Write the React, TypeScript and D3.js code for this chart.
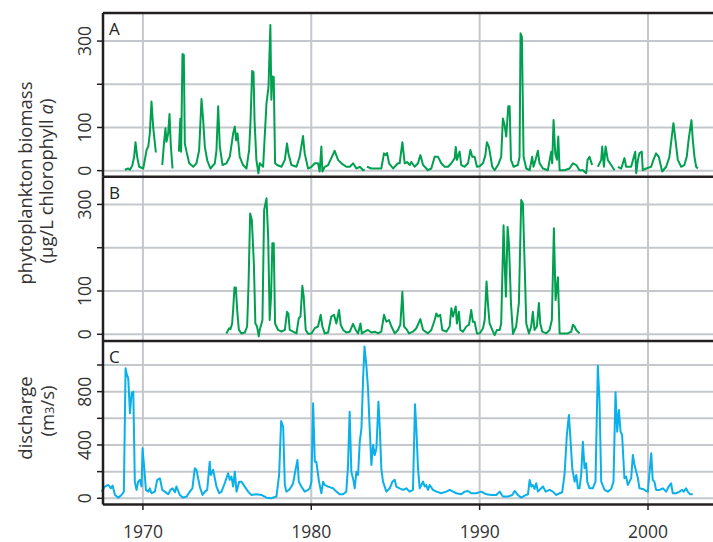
import React, { useEffect, useRef } from 'react'
import * as d3 from 'd3';

// panel A: phytoplankton biomass, station A  [decimal year, µg/L chl a]  (null = gap)
const chlA: [number, number | null][] = [
  [1968.93, 2], [1969.13, 5], [1969.23, 2], [1969.37, 12], [1969.48, 32], [1969.56, 66], [1969.66, 32], [1969.78, 9],
  [1970.02, 5], [1970.22, 48], [1970.32, 56], [1970.41, 86], [1970.51, 160], [1970.61, 101], [1970.77, 42], [1970.9, null],
  [1971.15, 13], [1971.25, 62], [1971.34, 98], [1971.40, 67], [1971.50, 86], [1971.58, 131], [1971.66, 56], [1971.76, 5], [1971.9, null],
  [1972.14, 44], [1972.22, 120], [1972.27, 44], [1972.35, 270], [1972.43, 268], [1972.49, 63], [1972.59, 44], [1972.75, 17],
  [1972.99, 9], [1973.18, 17], [1973.34, 47], [1973.48, 166], [1973.58, 117], [1973.68, 55], [1973.82, 24], [1974.01, 5],
  [1974.27, 17], [1974.37, 47], [1974.47, 149], [1974.57, 55], [1974.73, 13], [1974.96, 17], [1975.16, 32], [1975.36, 86],
  [1975.46, 102], [1975.54, 70], [1975.62, 86], [1975.75, 32], [1975.95, 13], [1976.15, 5], [1976.31, 48], [1976.39, 113],
  [1976.49, 231], [1976.57, 228], [1976.63, 117], [1976.74, 25], [1976.86, -6], [1976.94, 17], [1977.14, 9], [1977.34, 156],
  [1977.46, 194], [1977.57, 337], [1977.63, 164], [1977.69, 218], [1977.77, 217], [1977.85, 17], [1977.97, 13], [1978.23, 9],
  [1978.43, 25], [1978.56, 63], [1978.64, 40], [1978.82, 13], [1979.12, 9], [1979.31, 32], [1979.51, 80], [1979.61, 40],
  [1979.81, 5], [1980.01, 9], [1980.21, 17], [1980.40, 17], [1980.50, -2], [1980.60, 56], [1980.66, -2], [1980.80, 9],
  [1981.00, 13], [1981.19, 29], [1981.39, 46], [1981.59, 25], [1981.79, 17], [1982.08, 9], [1982.29, 9], [1982.48, 17],
  [1982.68, 5], [1982.88, 9], [1983.08, 1], [1983.17, 2], [1983.24, null], [1983.31, 9], [1983.57, 5], [1983.87, 5],
  [1984.16, 5], [1984.32, 40], [1984.42, 36], [1984.50, 41], [1984.62, 17], [1984.86, 5], [1985.15, 17], [1985.25, 17],
  [1985.41, 66], [1985.55, 17], [1985.69, 20], [1985.85, 13], [1985.94, 20], [1986.14, 9], [1986.34, 17], [1986.48, 36],
  [1986.64, 13], [1986.93, 1], [1987.13, 5], [1987.33, 32], [1987.53, 32], [1987.72, 17], [1987.92, 9], [1988.12, 9],
  [1988.32, 17], [1988.52, 29], [1988.58, 55], [1988.65, 25], [1988.81, 44], [1988.91, 13], [1989.11, 9], [1989.31, 17],
  [1989.45, 48], [1989.56, 32], [1989.70, 32], [1989.84, 9], [1990.00, 10], [1990.20, 17], [1990.34, 36], [1990.43, 66],
  [1990.55, 55], [1990.75, 9], [1990.89, 1], [1991.09, 13], [1991.28, 32], [1991.38, 121], [1991.48, 106], [1991.58, 79],
  [1991.70, 149], [1991.78, 149], [1991.86, 25], [1992.02, 9], [1992.27, 13], [1992.37, 32], [1992.43, 318], [1992.51, 310],
  [1992.61, 32], [1992.77, 5], [1992.97, 1], [1993.12, 32], [1993.20, 9], [1993.32, 25], [1993.46, 46], [1993.56, 17],
  [1993.76, 5], [1994.05, 1], [1994.25, 44], [1994.31, 17], [1994.39, 117], [1994.49, 40], [1994.59, 25], [1994.67, 79],
  [1994.75, 1], [1995.04, 1], [1995.34, 5], [1995.54, 17], [1995.74, 13], [1995.93, 1], [1996.13, 1], [1996.33, -6],
  [1996.41, 25], [1996.53, 32], [1996.68, 13], [1996.85, null], [1997.02, 9], [1997.22, 25], [1997.28, 56], [1997.38, 9],
  [1997.48, 56], [1997.61, 25], [1997.81, 13], [1998.01, 1], [1998.1, null], [1998.21, 9], [1998.41, 5], [1998.60, 29],
  [1998.70, 9], [1999.00, 9], [1999.24, 44], [1999.30, -6], [1999.40, 25], [1999.49, 40], [1999.63, 44], [1999.69, 1],
  [1999.89, 5], [2000.19, 9], [2000.32, 25], [2000.48, 40], [2000.64, 32], [2000.84, -2], [2001.08, 9], [2001.27, 32],
  [2001.39, 71], [2001.51, 110], [2001.63, 71], [2001.77, 25], [2001.97, 9], [2002.16, 13], [2002.30, 32], [2002.42, 74],
  [2002.58, 117], [2002.66, 71], [2002.76, 32], [2002.86, 9], [2002.96, 5]
];

// panel B: phytoplankton biomass, station B
const chlB: [number, number | null][] = [
  [1974.96, 2], [1975.12, 14], [1975.20, 12], [1975.30, 25], [1975.36, 56], [1975.44, 108], [1975.52, 108], [1975.60, 56],
  [1975.70, 10], [1975.85, 2], [1976.05, 4], [1976.19, 18], [1976.27, 110], [1976.37, 279], [1976.47, 264], [1976.59, 164],
  [1976.68, 25], [1976.78, 18], [1976.88, -5], [1976.94, 10], [1977.10, 33], [1977.20, 287], [1977.34, 314], [1977.44, 225],
  [1977.53, 33], [1977.61, 87], [1977.69, 210], [1977.77, 210], [1977.85, 25], [1978.03, 10], [1978.23, 6], [1978.43, 10],
  [1978.56, 52], [1978.64, 48], [1978.72, 10], [1978.92, 6], [1979.12, 2], [1979.26, 37], [1979.36, 41], [1979.47, 112],
  [1979.55, 87], [1979.67, 10], [1979.81, 1], [1980.01, 2], [1980.21, 14], [1980.40, 18], [1980.56, 45], [1980.66, 18],
  [1980.80, 2], [1981.00, 4], [1981.19, 41], [1981.35, 45], [1981.49, 25], [1981.65, 56], [1981.75, 22], [1981.89, 10],
  [1982.08, 4], [1982.29, 6], [1982.48, 24], [1982.64, 10], [1982.78, 2], [1982.92, 25], [1983.00, 2], [1983.17, 6],
  [1983.37, 10], [1983.57, 4], [1983.77, 6], [1983.97, 2], [1984.16, 6], [1984.32, 45], [1984.46, 29], [1984.62, 33],
  [1984.76, 18], [1984.96, 2], [1985.15, 10], [1985.29, 22], [1985.41, 98], [1985.51, 18], [1985.65, 12], [1985.81, 2],
  [1986.04, 6], [1986.24, 14], [1986.48, 35], [1986.64, 10], [1986.93, 2], [1987.13, 10], [1987.33, 33], [1987.43, 48],
  [1987.53, 41], [1987.66, 45], [1987.78, 10], [1988.02, 6], [1988.22, 18], [1988.32, 60], [1988.42, 41], [1988.58, 64],
  [1988.65, 25], [1988.77, 52], [1988.85, 10], [1989.01, 6], [1989.21, 18], [1989.37, 22], [1989.50, 56], [1989.60, 29],
  [1989.70, 29], [1989.84, 2], [1990.00, 2], [1990.20, 14], [1990.30, 33], [1990.41, 122], [1990.49, 72], [1990.59, 25],
  [1990.75, 10], [1990.89, -2], [1991.03, 10], [1991.19, 10], [1991.28, 25], [1991.42, 252], [1991.50, 148], [1991.56, 87],
  [1991.66, 248], [1991.74, 210], [1991.86, 72], [1991.98, 1], [1992.17, 18], [1992.33, 72], [1992.47, 310], [1992.57, 302],
  [1992.67, 164], [1992.77, 25], [1992.93, 2], [1993.06, 18], [1993.16, 52], [1993.26, 10], [1993.40, 18], [1993.52, 72],
  [1993.60, 25], [1993.72, 6], [1993.96, 2], [1994.15, 10], [1994.29, 33], [1994.41, 245], [1994.51, 79], [1994.65, 132],
  [1994.75, 2], [1994.94, 2], [1995.24, 2], [1995.44, 6], [1995.54, 22], [1995.64, 18], [1995.74, 10], [1995.93, 2]
];

// panel C: river discharge [decimal year, m3/s]
const discharge: [number, number | null][] = [
  [1967.55, 50], [1967.74, 88], [1967.94, 100], [1968.10, 75], [1968.20, 95], [1968.34, 25], [1968.54, 5], [1968.73, 25],
  [1968.87, 50], [1968.97, 975], [1969.03, 938], [1969.13, 900], [1969.23, 638], [1969.33, 788], [1969.43, 800], [1969.52, 125],
  [1969.62, 63], [1969.72, 125], [1969.82, 138], [1969.92, 88], [1969.98, 375], [1970.08, 225], [1970.18, 63], [1970.32, 50],
  [1970.41, 75], [1970.51, 38], [1970.71, 50], [1970.85, 138], [1971.01, 150], [1971.15, 63], [1971.30, 50], [1971.50, 30],
  [1971.64, 63], [1971.76, 75], [1971.90, 45], [1971.99, 88], [1972.19, 25], [1972.39, 5], [1972.59, 13], [1972.79, 50],
  [1972.94, 75], [1973.08, 225], [1973.18, 213], [1973.28, 150], [1973.38, 88], [1973.54, 25], [1973.68, 50], [1973.82, 63],
  [1973.97, 275], [1974.03, 175], [1974.17, 213], [1974.27, 150], [1974.37, 88], [1974.53, 38], [1974.67, 50], [1974.86, 113],
  [1975.06, 188], [1975.16, 138], [1975.26, 163], [1975.36, 88], [1975.46, 200], [1975.56, 50], [1975.72, 125], [1975.85, 125],
  [1976.05, 88], [1976.25, 50], [1976.45, 25], [1976.74, 30], [1977.04, 25], [1977.34, 5], [1977.63, 0], [1977.93, 13],
  [1978.09, 175], [1978.21, 580], [1978.33, 538], [1978.43, 100], [1978.52, 50], [1978.68, 63], [1978.82, 88], [1978.92, 113],
  [1979.08, 225], [1979.18, 288], [1979.26, 125], [1979.41, 88], [1979.61, 50], [1979.81, 63], [1979.91, 75], [1980.01, 125],
  [1980.11, 713], [1980.21, 275], [1980.30, 275], [1980.46, 125], [1980.60, 38], [1980.70, 125], [1980.80, 100], [1981.00, 88],
  [1981.29, 75], [1981.49, 50], [1981.69, 30], [1981.89, 30], [1982.08, 50], [1982.18, 238], [1982.28, 650], [1982.38, 200],
  [1982.52, 125], [1982.58, 75], [1982.68, 200], [1982.78, 175], [1982.88, 425], [1982.98, 525], [1983.08, 900], [1983.16, 1138],
  [1983.27, 1000], [1983.37, 825], [1983.47, 525], [1983.57, 250], [1983.67, 400], [1983.77, 325], [1983.87, 375], [1983.99, 725],
  [1984.07, 525], [1984.16, 225], [1984.26, 125], [1984.46, 50], [1984.66, 75], [1984.82, 125], [1984.96, 138], [1985.05, 88],
  [1985.25, 75], [1985.45, 63], [1985.65, 75], [1985.84, 50], [1986.04, 63], [1986.16, 705], [1986.24, 525], [1986.34, 225],
  [1986.44, 75], [1986.54, 100], [1986.64, 125], [1986.74, 88], [1986.83, 100], [1986.93, 63], [1987.03, 100], [1987.23, 63],
  [1987.43, 50], [1987.72, 38], [1988.02, 50], [1988.22, 63], [1988.42, 50], [1988.61, 38], [1988.91, 30], [1989.11, 50],
  [1989.31, 55], [1989.50, 38], [1989.80, 38], [1990.10, 50], [1990.40, 30], [1990.69, 25], [1990.99, 25], [1991.19, 50],
  [1991.38, 13], [1991.68, 13], [1991.94, 25], [1992.08, 55], [1992.27, 25], [1992.47, 5], [1992.67, 20], [1992.87, 30],
  [1992.97, 138], [1993.07, 88], [1993.16, 100], [1993.26, 70], [1993.36, 113], [1993.46, 50], [1993.66, 75], [1993.76, 88],
  [1993.92, 50], [1994.15, 63], [1994.35, 50], [1994.55, 25], [1994.75, 38], [1994.90, 45], [1995.04, 175], [1995.18, 475],
  [1995.30, 625], [1995.38, 475], [1995.50, 225], [1995.64, 125], [1995.74, 175], [1995.84, 75], [1995.93, 75], [1996.03, 175],
  [1996.13, 425], [1996.23, 225], [1996.33, 263], [1996.39, 125], [1996.53, 75], [1996.72, 75], [1996.88, 125], [1997.02, 995],
  [1997.12, 725], [1997.22, 125], [1997.42, 63], [1997.61, 50], [1997.81, 70], [1997.95, 125], [1998.07, 795], [1998.17, 500],
  [1998.27, 663], [1998.37, 500], [1998.46, 475], [1998.60, 150], [1998.70, 163], [1998.80, 100], [1998.90, 125], [1999.00, 150],
  [1999.10, 325], [1999.20, 250], [1999.30, 200], [1999.40, 150], [1999.49, 75], [1999.69, 70], [1999.89, 55], [1999.99, 50],
  [2000.19, 338], [2000.28, 138], [2000.38, 125], [2000.48, 63], [2000.68, 63], [2000.88, 75], [2001.08, 50], [2001.23, 88],
  [2001.37, 113], [2001.47, 38], [2001.67, 38], [2001.87, 50], [2002.03, 63], [2002.12, 50], [2002.26, 75], [2002.36, 50],
  [2002.50, 30], [2002.66, 30]
];

const yearTicks = [1970, 1980, 1990, 2000];
const chlTicks = [0, 100, 200, 300];
const chlLabels = [0, 100, 300];
const qTicks = [0, 200, 400, 600, 800, 1000];
const qLabels = [0, 400, 800];

function App() {
  const chart = useRef<SVGSVGElement>(null);

  useEffect(() => {
    const w = 713;
    const h = 542;
    const left = 103;
    const right = 720; // frame runs off the page edge
    const ink = '#231f20';
    const grid = '#c4c7cc';
    const font = "'Open Sans', 'Noto Sans', sans-serif";

    const svg = d3.select(chart.current)
      .attr('width', w)
      .attr('height', h);
    svg.selectAll('*').remove();

    const x = d3.scaleLinear().domain([1967.63, 2003.86]).range([left, 713]);

    const panels = [
      { label: 'A', data: chlA, domain: [-14, 365], range: [176.7, 13], ticks: chlTicks, labels: chlLabels, color: '#00a050' },
      { label: 'B', data: chlB, domain: [-15.5, 364], range: [341, 176.7], ticks: chlTicks, labels: chlLabels, color: '#00a050' },
      { label: 'C', data: discharge, domain: [-46.5, 1180], range: [504.5, 341], ticks: qTicks, labels: qLabels, color: '#0bb0ea' },
    ];

    panels.forEach(p => {
      const y = d3.scaleLinear().domain(p.domain).range(p.range);
      const g = svg.append('g');

      // GRID
      g.selectAll('.hg').data(p.ticks).join('line')
        .attr('x1', left).attr('x2', right)
        .attr('y1', d => y(d)).attr('y2', d => y(d))
        .attr('stroke', grid).attr('stroke-width', 2);
      g.selectAll('.vg').data(yearTicks).join('line')
        .attr('x1', d => x(d)).attr('x2', d => x(d))
        .attr('y1', p.range[1]).attr('y2', p.range[0])
        .attr('stroke', grid).attr('stroke-width', 2);

      // LINE
      const line = d3.line<[number, number | null]>()
        .defined(d => d[1] !== null)
        .x(d => x(d[0]))
        .y(d => y(d[1] as number));
      g.append('path')
        .attr('d', line(p.data))
        .attr('fill', 'none')
        .attr('stroke', p.color)
        .attr('stroke-width', 2)
        .attr('stroke-linejoin', 'round');

      // Y TICKS
      g.selectAll('.tk').data(p.ticks).join('line')
        .attr('x1', left - 6).attr('x2', left)
        .attr('y1', d => y(d)).attr('y2', d => y(d))
        .attr('stroke', ink).attr('stroke-width', 1.5);
      g.selectAll('.tl').data(p.labels).join('text')
        .attr('transform', d => `translate(90.5,${y(d)}) rotate(-90)`)
        .attr('text-anchor', 'middle')
        .attr('font-family', font)
        .attr('font-size', 17.5)
        .attr('fill', '#333')
        .text(d => d);

      // FRAME
      g.append('line')
        .attr('x1', left).attr('x2', right)
        .attr('y1', p.range[1]).attr('y2', p.range[1])
        .attr('stroke', ink).attr('stroke-width', 2.5);
      g.append('line')
        .attr('x1', left).attr('x2', left)
        .attr('y1', p.range[1]).attr('y2', p.range[0])
        .attr('stroke', ink).attr('stroke-width', 2.5);

      // PANEL LETTER
      g.append('text')
        .attr('x', 109).attr('y', p.range[1] + 22)
        .attr('font-family', font)
        .attr('font-size', 17)
        .attr('fill', '#222')
        .text(p.label);
    });

    // bottom frame + x axis
    svg.append('line')
      .attr('x1', left).attr('x2', right)
      .attr('y1', 504.5).attr('y2', 504.5)
      .attr('stroke', ink).attr('stroke-width', 2.5);
    svg.selectAll('.xt').data(yearTicks).join('line')
      .attr('x1', d => x(d)).attr('x2', d => x(d))
      .attr('y1', 504.5).attr('y2', 510)
      .attr('stroke', ink).attr('stroke-width', 1.5);
    svg.selectAll('.xl').data(yearTicks).join('text')
      .attr('x', d => x(d)).attr('y', 537.5)
      .attr('text-anchor', 'middle')
      .attr('font-family', font)
      .attr('font-size', 17.5)
      .attr('fill', '#333')
      .text(d => d);

    // AXIS TITLES
    const title = (dx: number, cy: number) => svg.append('text')
      .attr('transform', `translate(${dx},${cy}) rotate(-90)`)
      .attr('text-anchor', 'middle')
      .attr('font-family', font)
      .attr('font-size', 18.5)
      .attr('fill', '#333');

    title(31.5, 183).text('phytoplankton biomass');
    const t2 = title(53, 181);
    t2.append('tspan').text('(µg/L chlorophyll ');
    t2.append('tspan').attr('font-style', 'italic').text('a');
    t2.append('tspan').text(')');

    title(31.5, 418).text('discharge');
    const t3 = title(54, 411);
    t3.append('tspan').text('(m');
    t3.append('tspan').attr('font-size', 13).text('3');
    t3.append('tspan').text('/s)');
  }, []);

  return (
    <div className="chart">
      <svg ref={chart} style={{ position: 'absolute', left: 0, top: 0 }}></svg>
    </div>
  )
}

export default App
